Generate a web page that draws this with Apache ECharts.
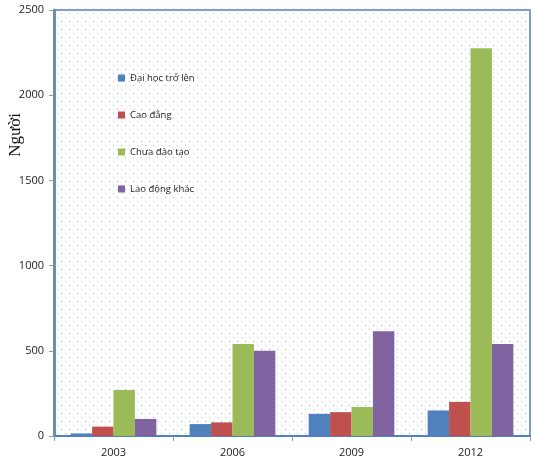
<!DOCTYPE html>
<html>
<head>
<meta charset="utf-8">
<script src="https://cdn.jsdelivr.net/npm/echarts@6/dist/echarts.min.js"></script>
<style>
  html, body { margin: 0; padding: 0; background: #fff; }
  #chart { width: 550px; height: 473px; }
</style>
</head>
<body>
<div id="chart"></div>
<script>
// số liệu
var years = ['2003', '2006', '2009', '2012'];
var daiHoc = [15, 70, 130, 150];
var caoDang = [55, 80, 140, 200];
var chuaDaoTao = [270, 540, 170, 2275];
var laoDongKhac = [100, 500, 615, 540];
var seriesNames = ['Đại học trở lên', 'Cao đẳng', 'Chưa đào tạo', 'Lao động khác'];
var colors = ['#4f81bd', '#c0504d', '#9bbb59', '#8064a2'];

// nền chấm
var dot = document.createElement('canvas');
dot.width = 8; dot.height = 8;
var ctx = dot.getContext('2d');
ctx.fillStyle = '#fff';
ctx.fillRect(0, 0, 8, 8);
ctx.fillStyle = '#a6bfe0';
ctx.fillRect(1, 1, 1, 1);
ctx.fillRect(5, 5, 1, 1);

var chart = echarts.init(document.getElementById('chart'));
var allData = [daiHoc, caoDang, chuaDaoTao, laoDongKhac];

var option = {
    animation: false,
    color: colors,
    textStyle: {fontFamily: 'Open Sans'},
    legend: {
        orient: 'vertical',
        left: 113,
        top: 68,
        itemGap: 27,
        itemWidth: 7,
        itemHeight: 7,
        icon: 'rect',
        textStyle: {fontSize: 9.5, color: '#222'},
        data: seriesNames
    },
    // tên trục tung
    graphic: [{
        type: 'text',
        x: 16,
        y: 135,
        rotation: Math.PI / 2,
        style: {
            text: 'Người',
            font: '17px "Liberation Serif"',
            fill: '#111',
            align: 'center',
            verticalAlign: 'middle'
        }
    }],
    grid: {
        left: 54, right: 20, top: 10, bottom: 37,
        outerBoundsMode: 'none',
        containLabel: false,
        show: true,
        backgroundColor: {image: dot, repeat: 'repeat'},
        borderColor: '#4f81bd',
        borderWidth: 1.5
    },
    xAxis: {
        type: 'category',
        data: years,
        axisLine: {lineStyle: {color: '#4f81bd', width: 2}},
        axisTick: {show: true, length: 5, lineStyle: {color: '#999'}},
        axisLabel: {color: '#222', fontSize: 11, margin: 11}
    },
    yAxis: {
        type: 'value',
        min: 0, max: 2500, interval: 500,
        axisLine: {show: true, lineStyle: {color: '#6b8fae', width: 3}},
        axisTick: {show: true, length: 5, lineStyle: {color: '#999'}},
        axisLabel: {color: '#222', fontSize: 11, margin: 10, formatter: function (v) { return String(v); }},
        splitLine: {show: false}
    },
    series: seriesNames.map(function (name, i) {
        return {
            name: name,
            type: 'bar',
            data: allData[i],
            barGap: '0%',
            barCategoryGap: '28%'
        };
    })
};
chart.setOption(option);
</script>
</body>
</html>
